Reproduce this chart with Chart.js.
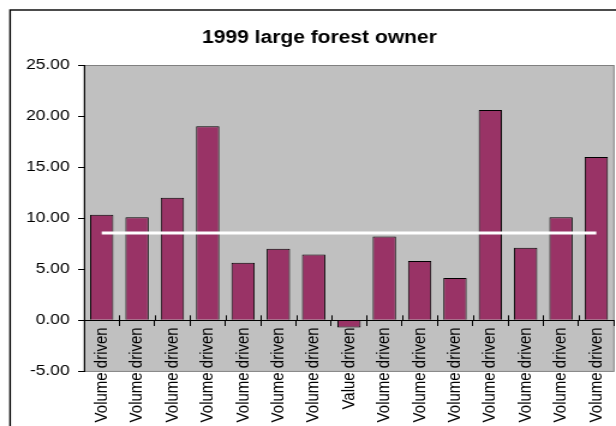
<!DOCTYPE html>
<html>
<head>
<meta charset="utf-8">
<script src="https://cdn.jsdelivr.net/npm/chart.js@4.4.0/dist/chart.umd.min.js"></script>
<style>
  html, body { margin: 0; padding: 0; background: #ffffff; overflow: hidden; }
  #c { display: block; }
</style>
</head>
<body>
<canvas id="c" width="513" height="426" style="width:616px;height:426px;"></canvas>
<script>
const categories = [
  'Volume driven', 'Volume driven', 'Volume driven', 'Volume driven', 'Volume driven',
  'Volume driven', 'Volume driven', 'Value driven', 'Volume driven', 'Volume driven',
  'Volume driven', 'Volume driven', 'Volume driven', 'Volume driven', 'Volume driven'
];
const barValues = [10.35, 10.1, 12.0, 19.0, 5.65, 7.0, 6.45, -0.7, 8.2, 5.8, 4.15, 20.6, 7.1, 10.1, 16.0];
const averageValues = [8.55, 8.55, 8.55, 8.55, 8.55, 8.55, 8.55, 8.55, 8.55, 8.55, 8.55, 8.55, 8.55, 8.55, 8.55];
const titleText = '1999 large forest owner';
const yMin = -5, yMax = 25, yStep = 5;

const backgroundPlugin = {
  id: 'bgFrame',
  beforeDraw(chart) {
    const ctx = chart.ctx;
    const a = chart.chartArea;
    ctx.save();
    ctx.fillStyle = '#ffffff';
    ctx.fillRect(0, 0, chart.width, chart.height);
    // outer frame (continues past the right and bottom edges)
    ctx.strokeStyle = '#000000';
    ctx.lineWidth = 1.4;
    ctx.strokeRect(8.4, 10, chart.width + 20, chart.height + 20);
    // plot area
    ctx.fillStyle = '#c0c0c0';
    ctx.fillRect(a.left, a.top, a.right - a.left, a.bottom - a.top);
    ctx.strokeStyle = '#808080';
    ctx.lineWidth = 1;
    ctx.strokeRect(a.left, a.top + 0.5, a.right - a.left, a.bottom - a.top - 0.5);
    ctx.restore();
  },
  afterDatasetsDraw(chart) {
    const ctx = chart.ctx;
    const xs = chart.scales.x;
    const ys = chart.scales.y;
    const y0 = ys.getPixelForValue(0);
    ctx.save();
    ctx.strokeStyle = '#000000';
    ctx.lineWidth = 1;
    for (let i = 0; i < categories.length - 1; i++) {
      const xb = Math.round((xs.getPixelForValue(i) + xs.getPixelForValue(i + 1)) / 2) + 0.5;
      ctx.beginPath();
      ctx.moveTo(xb, y0 - 5);
      ctx.lineTo(xb, y0);
      ctx.stroke();
    }
    ctx.restore();
  }
};

new Chart(document.getElementById('c'), {
  type: 'bar',
  data: {
    labels: categories,
    datasets: [
      {
        type: 'line',
        label: 'Average',
        data: averageValues,
        borderColor: '#ffffff',
        borderWidth: 3,
        pointRadius: 0,
        fill: false,
        tension: 0,
        order: 0
      },
      {
        type: 'bar',
        label: '1999',
        data: barValues,
        backgroundColor: '#993366',
        borderColor: '#000000',
        borderWidth: 1,
        barPercentage: 0.66,
        categoryPercentage: 1.0,
        order: 1
      }
    ]
  },
  options: {
    responsive: false,
    animation: false,
    devicePixelRatio: 1,
    layout: { padding: { left: 20.7, right: 1.7, top: 0, bottom: 54.6 } },
    plugins: {
      legend: { display: false },
      tooltip: { enabled: false },
      title: {
        display: true,
        text: titleText,
        color: '#000000',
        font: { family: '"Liberation Sans", Arial, sans-serif', size: 17.5, weight: 'bold', lineHeight: 1.2 },
        padding: { top: 27.5, bottom: 16.5 }
      }
    },
    scales: {
      x: {
        position: { y: 0 },
        offset: true,
        afterFit(scale) { scale.paddingLeft = 0; scale.paddingRight = 0; },
        grid: {
          offset: true,
          drawOnChartArea: false,
          drawTicks: true,
          tickLength: 5,
          color: '#000000'
        },
        border: { display: true, color: '#000000', width: 1 },
        ticks: {
          autoSkip: false,
          minRotation: 90,
          maxRotation: 90,
          padding: 2,
          color: '#000000',
          font: { family: '"Liberation Sans", Arial, sans-serif', size: 15 }
        }
      },
      y: {
        min: yMin,
        max: yMax,
        afterFit(scale) { scale.width = 49.3; },
        grid: {
          drawOnChartArea: false,
          drawTicks: true,
          tickLength: 5,
          color: '#000000'
        },
        border: { display: true, color: '#000000', width: 1 },
        ticks: {
          stepSize: yStep,
          padding: 7,
          color: '#000000',
          font: { family: '"Liberation Sans", Arial, sans-serif', size: 14.5 },
          callback: (v) => Number(v).toFixed(2)
        }
      }
    }
  },
  plugins: [backgroundPlugin]
});
</script>
</body>
</html>
